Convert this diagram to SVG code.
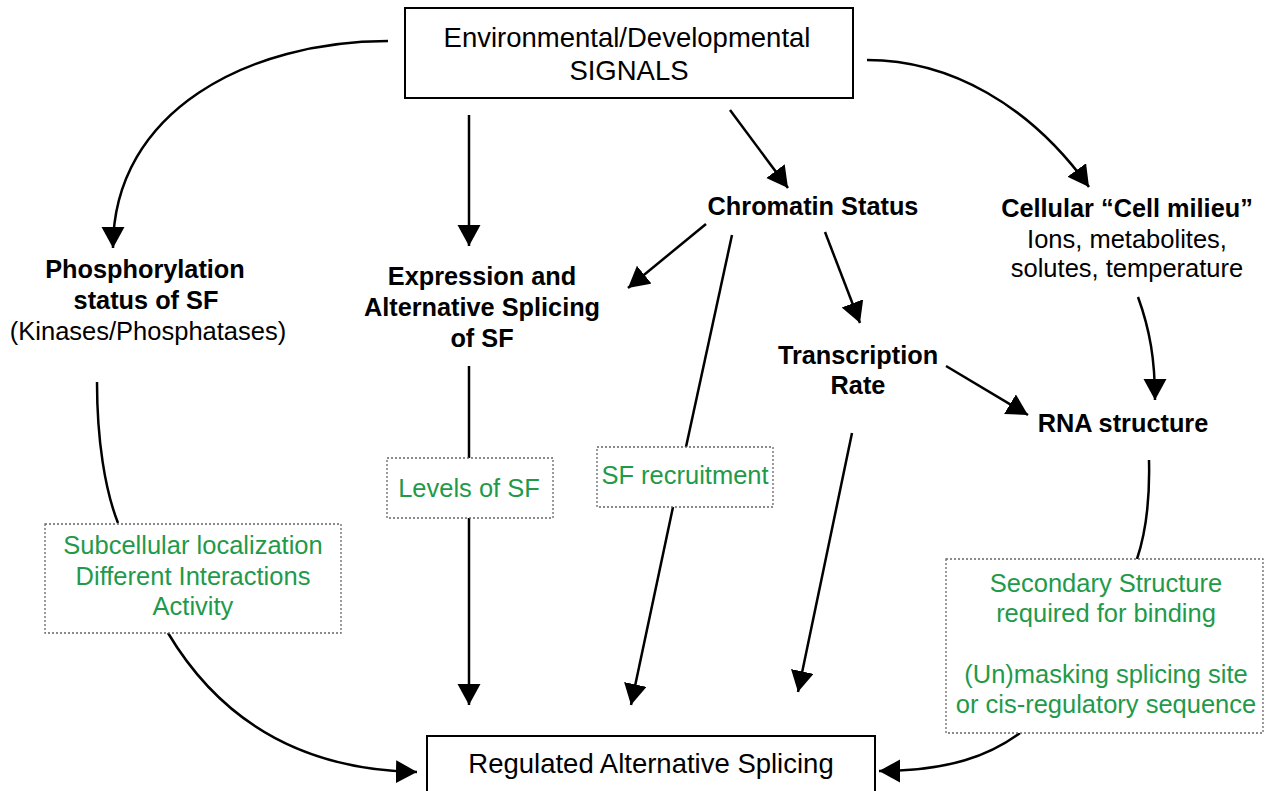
<svg xmlns="http://www.w3.org/2000/svg" width="1265" height="791" viewBox="0 0 1265 791">
<defs>
<marker id="ah" markerUnits="userSpaceOnUse" markerWidth="22" markerHeight="24" refX="21" refY="11.5" orient="auto" viewBox="0 0 22 24">
<path d="M0,0 L21,11.5 L0,23 z" fill="#000"/>
</marker>
<style>
text{font-family:"Liberation Sans",Arial,sans-serif;text-anchor:middle;fill:#000}
.big{font-size:27.5px}
.b{font-size:25.3px;font-weight:bold}
.n{font-size:25.5px}
.g{font-size:25.5px;fill:#1f9a4a}
.box{fill:#fff;stroke:#000;stroke-width:2}
.dot{fill:#fff;stroke:#666;stroke-width:1.3;stroke-dasharray:2 2}
.c{fill:none;stroke:#000;stroke-width:2.5}
.ca{fill:none;stroke:#000;stroke-width:2.5;marker-end:url(#ah)}
</style>
</defs>
<rect width="1265" height="791" fill="#fff"/>
<g id="connectors">
<path class="ca" d="M388,41 C250,41 113,110 113,248"/>
<path class="ca" d="M469,115 L469,246"/>
<path class="ca" d="M730,110 L788,188"/>
<path class="ca" d="M867,60 C950,60 1030,105 1089,187"/>
<path class="ca" d="M706,224 L628,288"/>
<path class="c" d="M732,235 L686,447"/>
<path class="ca" d="M673,507 L631,705"/>
<path class="ca" d="M825,232 L860,323"/>
<path class="ca" d="M946,366 L1028,415"/>
<path class="ca" d="M852,433 L798,692"/>
<path class="ca" d="M1138,297 C1150,330 1155,360 1155,400"/>
<path class="c" d="M1149,460 C1150,500 1145,535 1137,559"/>
<path class="ca" d="M1020,733 C990,755 950,771 879,771"/>
<path class="c" d="M97,382 C97,440 105,490 118,523"/>
<path class="ca" d="M168,633 C220,720 300,770 417,772"/>
<path class="c" d="M469,366 L469,458"/>
<path class="ca" d="M469,518 L469,705"/>
</g>
<g id="signals">
<rect class="box" x="405" y="8" width="448" height="90"/>
<text class="big" x="627" y="47">Environmental/Developmental</text>
<text class="big" x="629" y="80">SIGNALS</text>
</g>
<g id="phospho">
<text class="b" x="145" y="278">Phosphorylation</text>
<text class="b" x="146" y="309">status of SF</text>
<text class="n" x="148" y="340">(Kinases/Phosphatases)</text>
</g>
<g id="expression">
<text class="b" x="482" y="285">Expression and</text>
<text class="b" x="482" y="316">Alternative Splicing</text>
<text class="b" x="482" y="347">of SF</text>
</g>
<g id="chromatin">
<text class="b" x="813" y="215">Chromatin Status</text>
</g>
<g id="milieu">
<text class="b" x="1127" y="217">Cellular “Cell milieu”</text>
<text class="n" x="1127" y="248">Ions, metabolites,</text>
<text class="n" x="1127" y="277">solutes, temperature</text>
</g>
<g id="transcription">
<text class="b" x="858" y="364">Transcription</text>
<text class="b" x="858" y="394">Rate</text>
</g>
<g id="rna">
<text class="b" x="1123" y="432">RNA structure</text>
</g>
<g id="subcellular">
<rect class="dot" x="45" y="524" width="296" height="109"/>
<text class="g" x="193" y="554">Subcellular localization</text>
<text class="g" x="193" y="585">Different Interactions</text>
<text class="g" x="193" y="615">Activity</text>
</g>
<g id="levels">
<rect class="dot" x="387" y="458" width="166" height="60"/>
<text class="g" x="469" y="497">Levels of SF</text>
</g>
<g id="recruitment">
<rect class="dot" x="597" y="447" width="176" height="60"/>
<text class="g" x="685" y="484">SF recruitment</text>
</g>
<g id="secondary">
<rect class="dot" x="946" y="559" width="317" height="174"/>
<text class="g" x="1106" y="592">Secondary Structure</text>
<text class="g" x="1106" y="622">required for binding</text>
<text class="g" x="1106" y="683">(Un)masking splicing site</text>
<text class="g" x="1106" y="713">or cis-regulatory sequence</text>
</g>
<g id="regulated">
<rect class="box" x="427" y="736" width="448" height="70"/>
<text class="big" x="651" y="773">Regulated Alternative Splicing</text>
</g>
</svg>
